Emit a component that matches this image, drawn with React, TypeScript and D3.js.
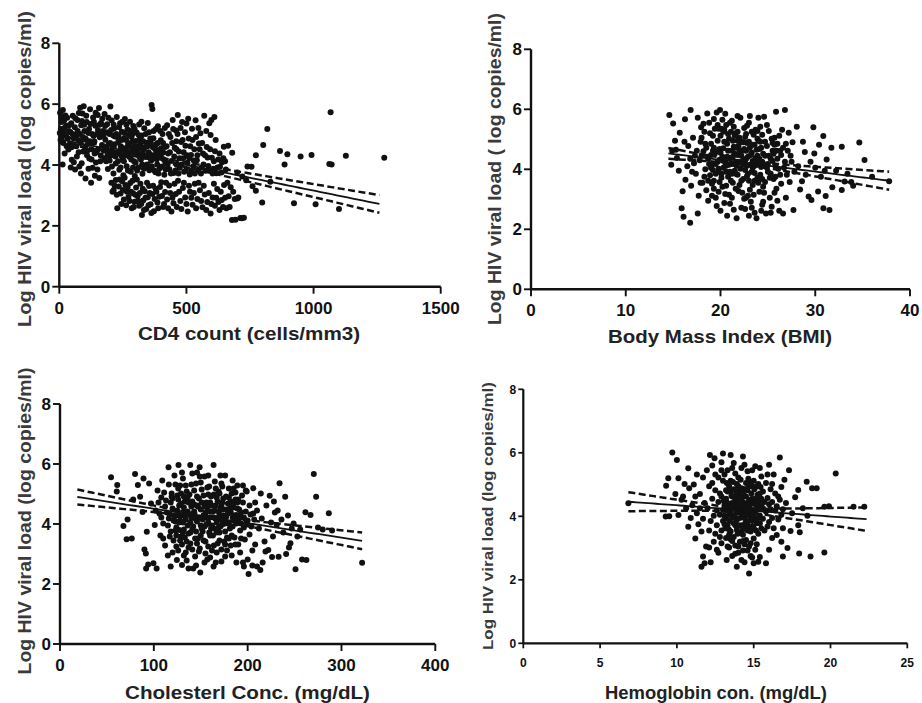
import React from "react";
import * as d3 from "d3";

// ---------- DATA ----------
const yTicks = [0, 2, 4, 6, 8];
const cd4Ticks = [0, 500, 1000, 1500];
const bmiTicks = [0, 10, 20, 30, 40];
const cholTicks = [0, 100, 200, 300, 400];
const hbTicks = [0, 5, 10, 15, 20, 25];

const yTitles = [
  "Log HIV viral load (log copies/ml)",
  "Log HIV viral load ( log copies/ml)",
  "Log HIV viral load (log copies/ml)",
  "Log HIV viral load (log copies/ml)",
];
const xTitles = [
  "CD4 count (cells/mm3)",
  "Body Mass Index (BMI)",
  "Cholesterl Conc. (mg/dL)",
  "Hemoglobin con. (mg/dL)",
];

// regression fits: x range, y at ends, mean x, CI half-width [left, centre, right]
const cd4FitX = [0, 1259];
const cd4FitY = [4.85, 2.72];
const cd4MeanX = 330;
const cd4Band = [0.13, 0.06, 0.29];

const bmiFitX = [14.5, 37.8];
const bmiFitY = [4.53, 3.62];
const bmiMeanX = 22;
const bmiBand = [0.18, 0.06, 0.3];

const cholFitX = [18.5, 322];
const cholFitY = [4.9, 3.44];
const cholMeanX = 150;
const cholBand = [0.25, 0.06, 0.28];

const hbFitX = [6.84, 22.35];
const hbFitY = [4.46, 3.91];
const hbMeanX = 14;
const hbBand = [0.3, 0.06, 0.37];

const cd4Points: [number, number][] = [
  [3,5.72],[8,5.58],[14,5.81],[19,5.46],[24,5.63],[6,5.18],[11,4.93],[17,5.07],[27,5.29],[33,4.88],[38,5.12],[42,4.71],[47,5.37],[52,5.02],[58,4.63],[61,5.24],[66,4.97],[71,5.48],[77,5.71],[82,5.88],[86,5.31],[91,5.69],[96,5.93],[99,5.12],[104,4.86],[108,5.41],[113,4.69],[117,5.18],[121,5.83],[126,4.52],[129,5.02],[133,5.56],[138,4.77],[142,5.29],[147,4.43],[151,5.64],[156,5.87],[159,4.91],[164,5.38],[168,4.66],[13,4.02],[21,4.38],[36,4.51],[49,4.17],[57,4.09],[69,4.28],[79,3.95],[88,4.06],[94,4.44],[103,3.56],[118,4.21],[131,3.91],[144,4.08],[157,3.57],[163,4.31],[29,4.62],[74,4.82],[111,4.48],[135,4.95],[152,5.15],
  [2,5.05],[5,4.82],[9,5.41],[16,4.72],[20,5.22],[26,4.98],[31,5.55],[35,4.62],[39,5.31],[44,5.08],[48,4.58],[53,5.62],[56,4.88],[63,5.54],[67,4.62],[72,5.12],[76,4.42],[81,5.02],[84,4.72],[89,5.45],[93,4.92],[98,5.32],[101,4.58],[106,5.62],[109,4.32],[114,5.05],[119,4.78],[123,5.35],[127,4.18],[132,4.72],[136,5.42],[139,4.38],[143,5.72],[148,5.02],[153,4.52],[158,5.32],[161,4.12],[166,5.02],[169,5.52],[45,3.92],[62,3.85],[85,3.72],[115,3.88],[140,3.65],[125,3.42],[150,3.85],
  [172,5.12],[175,4.47],[178,5.68],[181,4.83],[184,4.12],[188,5.34],[191,3.87],[194,4.69],[197,5.02],[201,5.92],[203,4.31],[206,5.46],[209,4.58],[213,3.72],[216,5.21],[219,4.94],[222,4.05],[226,5.58],[229,4.39],[232,4.76],[236,3.84],[239,5.37],[242,4.62],[246,5.09],[249,4.21],[252,3.66],[255,4.88],[258,5.51],[262,4.47],[265,3.96],[268,5.17],[271,4.71],[275,4.27],[278,5.42],[281,3.78],[284,4.93],[288,4.54],[291,5.28],[294,4.12],[297,3.64],[301,4.79],[304,5.07],[307,4.36],[311,3.92],[314,5.33],[317,4.63],[321,4.18],[324,4.97],[327,3.71],[331,4.51],[334,5.21],[337,4.27],[341,3.98],[344,4.73],[348,5.38],[351,4.42],[354,3.83],[358,4.87],[361,4.14],[363,5.97],[366,5.84],[368,4.58],[371,5.12],[375,4.33],[378,3.76],[381,4.68],[385,4.02],[388,5.27],[392,4.49],[395,3.89],[399,4.81],[402,4.24],[406,5.02],[409,4.41],[413,3.68],[416,4.59],[419,4.07],[186,4.59],[212,4.97],[244,4.31],[273,4.66],[299,4.43],[326,4.38],[356,4.25],[383,4.41],[198,4.15],[233,4.95],[263,4.82],[289,5.03],[318,4.87],[346,4.02],
  [174,4.95],[177,4.22],[180,5.28],[183,4.58],[187,5.08],[190,4.32],[193,5.55],[196,4.45],[200,4.72],[204,5.15],[207,3.95],[211,4.42],[214,5.32],[218,4.68],[221,4.28],[224,5.02],[228,4.92],[231,4.12],[235,5.24],[238,4.48],[241,3.92],[245,4.82],[248,5.42],[251,4.55],[254,4.12],[257,5.05],[261,4.32],[264,5.32],[267,4.58],[270,3.82],[274,4.98],[277,4.42],[280,5.12],[283,4.18],[287,4.78],[290,3.92],[293,4.62],[296,5.18],[300,4.08],[303,4.62],[306,3.82],[310,4.52],[313,4.98],[316,4.25],[320,4.72],[323,5.42],[326,4.02],[330,4.78],[333,3.88],[336,4.58],[340,5.02],[343,4.32],[347,4.62],[350,3.92],[353,5.08],[357,4.35],[360,4.72],[364,3.95],[367,4.28],[370,4.88],[374,3.82],[377,4.52],[380,5.18],[384,4.22],[387,4.72],[390,3.72],[394,4.38],[397,5.12],[401,4.55],[404,3.95],[408,4.72],[411,4.18],[415,5.22],[418,3.85],
  [424,5.31],[428,4.38],[433,3.86],[437,4.92],[441,4.13],[446,5.48],[450,3.74],[454,4.57],[459,5.13],[462,4.01],[466,5.64],[470,4.44],[474,3.91],[479,4.76],[483,5.41],[487,4.22],[491,3.78],[496,4.63],[500,5.36],[504,4.07],[509,4.87],[513,3.69],[518,4.33],[522,5.19],[527,3.96],[531,4.52],[536,5.47],[541,4.16],[545,3.83],[549,4.71],[555,5.04],[560,3.92],[565,4.38],[570,5.62],[575,3.81],[580,4.59],[586,3.97],[590,5.37],[595,4.99],[600,4.24],[606,3.88],[612,4.45],[618,3.73],[625,4.18],[632,3.94],[640,4.09],[647,4.6],[655,3.85],[610,5.58],[460,4.78],
  [422,4.62],[426,4.02],[431,5.02],[435,4.42],[439,3.72],[444,4.72],[448,5.18],[452,4.28],[457,3.82],[461,4.52],[465,5.02],[469,3.72],[473,4.22],[477,5.22],[481,4.02],[485,4.82],[489,4.42],[494,5.08],[498,3.82],[502,4.32],[507,5.52],[511,4.22],[515,4.62],[520,3.82],[524,4.82],[529,4.15],[533,3.72],[538,4.92],[543,4.32],[547,5.22],[552,4.52],[557,3.72],[562,4.72],[567,4.02],[573,4.32],[578,5.12],[583,4.25],[588,3.82],[593,4.52],[598,5.48],[603,3.72],[608,4.12],[615,4.82],[622,3.92],[630,4.38],[638,3.75],[645,4.22],[652,4.12],
  [205,3.42],[214,3.18],[222,3.51],[228,2.58],[234,3.29],[241,3.06],[247,3.47],[254,2.87],[260,3.34],[266,3.12],[272,2.95],[279,3.41],[285,2.58],[290,3.07],[296,2.79],[302,3.26],[308,2.97],[314,2.66],[319,3.38],[325,2.36],[330,2.83],[336,3.14],[342,2.55],[348,2.94],[353,3.31],[359,2.71],[366,3.05],[372,2.48],[379,3.22],[386,2.77],[393,2.96],[401,3.43],[408,2.62],[416,3.11],[424,2.87],[432,3.33],[441,2.47],[449,2.74],[458,3.05],[467,3.48],[476,2.82],[486,3.24],[495,2.93],[505,2.47],[514,3.12],[524,2.69],[533,3.38],[543,2.88],[553,3.17],[563,2.61],[572,3.03],[582,2.78],[595,2.41],[603,2.93],[612,2.66],[621,3.21],[630,2.52],[639,2.85],[648,3.34],[657,2.58],[666,2.97],[674,3.27],[679,2.19],[690,2.88],[704,2.93],[712,2.26],[718,2.25],[693,2.2],
  [209,3.12],[218,3.32],[226,3.02],[237,3.52],[244,2.72],[250,3.18],[257,3.58],[263,2.68],[269,3.28],[276,2.82],[282,3.12],[288,3.48],[293,2.62],[299,3.02],[305,3.52],[311,2.82],[317,3.08],[322,2.72],[328,3.22],[333,2.52],[339,2.92],[345,3.42],[351,2.68],[356,3.08],[362,2.42],[369,3.32],[375,2.88],[382,3.12],[389,2.58],[396,3.28],[404,2.98],[412,2.72],[420,3.42],[428,2.58],[436,3.08],[445,2.92],[453,3.38],[462,2.62],[471,3.12],[480,2.55],[490,3.42],[500,2.72],[510,3.32],[519,2.92],[529,3.08],[538,2.58],[548,3.42],[558,2.82],[568,3.32],[578,2.52],[588,3.08],[598,2.72],[608,3.38],[617,2.92],[626,2.78],[635,3.12],[644,2.62],[652,2.92],[661,3.42],[670,2.62],[684,3.12],
  [664,4.63],[680,4.4],[700,3.75],[720,3.62],[740,3.95],[756,3.94],[773,4.32],[773,3.15],[798,2.77],[802,4.66],[818,5.18],[868,4.46],[886,4.02],[897,4.35],[923,2.74],[949,4.28],[992,4.33],[1008,2.71],[1067,5.73],[1071,4.02],[1062,4.03],[1100,2.55],[1127,4.3],[1278,4.24],[830,3.45],[726,2.27],[700,2.9],[735,3.5],[760,3.3],
];

const bmiPoints: [number, number][] = [
  [14.6,5.81],[15.0,5.53],[14.8,4.15],[14.9,4.62],[15.2,4.95],[15.4,4.38],[15.7,5.22],[15.9,2.7],[16.1,2.42],[16.8,2.22],[16.0,3.27],[16.3,3.65],[16.5,4.1],[16.25,5.67],[16.6,4.78],[16.85,5.98],[16.9,3.45],[17.1,5.05],[17.3,4.45],[17.6,2.53],[17.4,3.85],[17.7,3.12],[17.9,4.92],[17.95,5.4],[17.2,4.2],
  [18.1,3.55],[18.2,4.6],[18.3,5.25],[18.4,4.0],[18.6,5.86],[18.5,3.3],[18.7,4.35],[18.8,5.55],[18.9,3.8],[19.0,4.85],[19.1,4.15],[19.2,5.12],[19.3,3.62],[19.4,4.52],[19.5,3.05],[19.6,5.89],[19.7,4.25],[19.8,3.92],[19.95,5.98],[19.9,4.68],[20.0,2.62],[20.1,5.35],[20.2,3.42],[20.3,4.05],[20.4,4.92],[20.5,3.18],[20.6,5.48],[20.7,4.42],[20.8,3.75],[20.9,5.02],[21.0,2.85],[21.1,4.18],[21.2,5.62],[21.3,3.55],[21.4,4.75],[21.5,3.95],[21.6,5.2],[21.7,2.37],[21.8,4.48],[21.9,3.28],[22.0,5.05],[22.1,4.02],[22.2,2.72],[22.3,4.62],[22.4,3.68],[22.5,5.38],[22.6,4.3],[22.7,3.05],[22.8,4.88],[22.9,3.85],[23.0,5.55],[23.1,4.15],[23.2,2.92],[23.3,4.55],[23.4,3.48],[23.5,5.15],[23.6,2.55],[23.7,4.38],[23.8,2.37],[23.9,3.72],[24.0,4.95],[24.1,3.25],[24.2,5.42],[24.3,4.08],[24.4,2.82],[24.6,5.75],[24.5,4.52],[24.7,3.58],[24.8,2.53],[24.9,4.78],[25.0,3.92],[25.1,5.28],[25.2,3.05],[25.3,4.35],[25.4,2.75],[25.5,4.62],[25.6,3.68],[25.86,5.92],[25.7,5.05],[25.8,4.12],[25.9,3.35],[26.0,4.85],[26.2,2.62],[26.3,3.82],[26.4,4.48],[26.6,2.53],[26.5,5.32],[26.8,5.98],[26.7,4.05],[26.9,3.05],[27.1,4.62],[27.3,3.58],[27.5,4.25],[27.7,2.64],[27.6,4.9],[27.8,3.92],
  [18.5,4.72],[19.0,4.48],[19.2,3.98],[19.6,4.6],[19.9,4.32],[20.3,4.7],[20.5,4.22],[20.8,4.62],[21.0,4.38],[21.3,4.95],[21.5,4.52],[21.7,4.12],[21.9,4.78],[22.2,4.45],[22.4,4.9],[22.6,3.98],[22.9,4.42],[23.1,4.72],[23.4,4.28],[23.6,4.82],[23.9,4.45],[24.1,4.68],[24.4,4.25],[24.7,4.92],[25.1,4.45],[18.8,4.18],[19.4,5.35],[20.0,5.12],[20.6,3.92],[21.1,3.62],[21.8,3.82],[22.0,3.48],[22.7,5.18],[23.3,3.92],[24.0,3.55],[24.8,4.15],[20.2,5.65],[21.4,5.42],[22.8,5.45],[23.7,5.32],[19.3,3.35],[20.9,3.15],[22.3,3.22],[23.5,3.15],[24.6,3.22],[20.4,2.88],[22.6,2.68],[23.0,2.45],
  [17.5,4.62],[17.8,4.3],[18.0,5.05],[18.3,3.75],[18.6,4.42],[18.9,5.2],[19.1,3.52],[19.3,4.72],[19.5,4.18],[19.7,5.48],[19.8,3.25],[20.0,4.55],[20.1,3.72],[20.3,5.25],[20.4,4.32],[20.6,3.45],[20.7,4.85],[20.9,4.15],[21.0,5.55],[21.2,3.85],[21.3,4.42],[21.5,5.12],[21.6,3.35],[21.8,4.95],[21.9,4.25],[22.1,5.72],[22.2,3.62],[22.4,4.15],[22.5,3.02],[22.7,4.62],[22.8,3.78],[23.0,4.92],[23.1,3.32],[23.3,5.25],[23.4,4.05],[23.6,3.62],[23.8,4.65],[23.9,5.02],[24.1,4.35],[24.2,3.82],[24.4,5.15],[24.5,3.42],[24.7,4.45],[24.9,5.48],[25.0,4.18],[25.2,3.72],[25.4,5.02],[25.5,4.28],[25.7,3.22],[25.9,4.62],[26.1,4.02],[26.2,5.12],[26.4,3.52],[26.6,4.72],[26.8,4.25],[27.0,3.82],[27.2,5.22],[27.4,4.45],[26.0,2.95],[25.3,2.55],[24.3,2.62],[23.3,2.72],[21.4,2.65],[20.7,2.45],[19.6,2.78],[18.7,2.95],[17.9,3.55],[19.1,3.12],[20.1,3.85],[21.2,3.05],[22.9,3.12],[24.5,2.92],[25.7,4.82],[26.9,4.85],[18.2,5.52],[19.3,5.68],[20.5,5.85],[21.8,5.78],[23.1,5.78],[24.0,5.72],[18.0,4.45],[19.8,4.02],[21.6,4.72],[22.0,4.22],[22.7,4.35],[23.6,4.12],[24.3,4.72],[25.6,4.52],[16.8,4.35],[17.0,3.92],[16.2,4.92],[15.6,3.95],[15.3,4.65],[17.6,5.72],
  [18.4,4.85],[18.7,3.62],[19.0,4.05],[19.2,4.62],[19.5,3.85],[19.7,4.95],[19.9,3.58],[20.2,4.42],[20.4,5.32],[20.6,4.12],[20.8,5.18],[21.0,3.92],[21.2,4.62],[21.4,4.18],[21.6,3.85],[21.8,5.25],[22.0,4.62],[22.2,4.92],[22.4,4.32],[22.6,5.08],[22.8,4.12],[23.0,3.62],[23.2,4.48],[23.4,4.82],[23.6,3.88],[23.8,4.32],[24.0,4.18],[24.2,4.92],[24.4,3.68],[24.6,4.12],[24.9,4.05],[25.3,3.85],[25.5,4.88],[25.8,3.75],[26.0,4.35],[26.3,4.62],[19.8,5.35],[21.1,5.25],[22.5,4.68],[23.9,5.28],
  [28.05,5.42],[28.4,3.33],[28.7,4.92],[28.9,4.58],[29.3,3.09],[29.6,2.98],[29.8,5.4],[29.9,4.53],[30.3,3.26],[30.86,2.7],[30.85,5.11],[31.1,3.11],[31.2,4.33],[31.5,2.64],[31.7,4.72],[31.8,3.4],[32.8,4.75],[32.8,3.31],[33.1,3.59],[33.8,3.58],[34.65,4.89],[35.2,4.31],[28.2,4.1],[29.0,3.82],[30.0,4.05],[30.6,3.75],[32.2,3.95],[34.0,3.45],[37.8,3.6],[28.6,3.6],[29.5,4.25],[30.4,4.82],[31.0,3.95],[33.4,3.85],[36.0,3.75],
];

const cholPoints: [number, number][] = [
  [54.4,5.56],[61,5.3],[60.5,5.08],[67.6,3.93],[71,3.49],[76.5,3.52],[80,5.67],[85.4,4.91],[91.5,3.02],[91.8,2.52],[99.6,2.69],[103,2.52],[92.5,3.74],[89,5.52],[101,3.97],[83,5.3],[88,4.4],[95,5.35],[97,4.68],[90,3.15],[94,2.65],[78,4.82],[72,4.15],
  [104,5.12],[106,4.35],[107,3.62],[109,5.45],[110,4.02],[112,3.28],[113,4.78],[115.7,5.89],[115,2.95],[116,4.18],[118,2.58],[118,3.75],[119,5.02],[120,4.52],[121,3.45],[122,5.62],[123,4.08],[124.6,2.8],[124,3.88],[125,4.95],[126.3,5.97],[126,3.12],[127,4.62],[128,5.28],[129,3.58],[130,2.63],[130,4.28],[131,5.52],[132,3.82],[133,4.75],[134,3.05],[135,5.08],[136,4.42],[137,2.52],[137,3.68],[138,4.98],[138.8,5.97],[139,3.35],[140,4.22],[141,5.68],[142,3.92],[143,4.65],[144,2.92],[145,5.35],[146,4.08],[147,3.52],[148,4.85],[148.8,5.89],[149.5,2.38],[149,3.18],[150,4.48],[151,5.15],[152,3.75],[153,4.28],[154,5.58],[155,3.42],[156,4.72],[157,2.82],[158,4.05],[159,5.25],[160,3.62],[161,4.92],[162,3.95],[163.7,5.97],[163.7,2.58],[163,4.42],[164,3.28],[165,5.42],[166,4.18],[167,3.05],[168,4.75],[169,5.08],[170,3.72],[171,4.52],[172,2.75],[172,5.35],[173,3.98],[174,4.85],[175,3.42],[176,5.62],[177,4.25],[178,3.12],[179,4.68],[180,5.18],[181,3.85],[182,4.38],[183,2.95],[184,5.45],[185,4.12],[186,3.55],[187,4.82],[188,4.02],[189,5.28],[190,3.32],[191,4.48],[192,3.78],[194,4.95],[195,2.72],[196,4.22],[197,3.48],[198,5.12],[199,4.05],[199,5.08],[201,2.33],[202,3.65],[203,4.32],[205,3.12],[206,5.19],[207,4.15],
  [125,4.45],[128,4.12],[132,4.55],[134,4.32],[136,3.95],[140,4.58],[142,4.35],[145,3.75],[147,4.58],[150,3.95],[152,4.15],[155,4.38],[157,4.55],[160,4.22],[162,4.62],[165,4.45],[167,4.05],[170,4.32],[172,4.62],[175,4.15],[177,4.48],[180,4.02],[182,4.75],[185,4.55],[188,4.3],[190,4.12],[193,4.38],[122,4.25],[127,3.8],[133,3.55],[139,3.72],[146,3.35],[153,3.45],[158,3.25],[164,3.85],[170,3.45],[176,3.75],[183,3.62],[118,4.72],[126,5.18],[134,5.28],[143,5.12],[150,5.38],[158,4.98],[166,5.18],[173,5.25],[180,4.88],[187,5.05],[130,3.32],[141,3.15],[155,3.02],[168,3.35],[178,3.55],[120,3.05],[135,2.78],[145,2.62],[160,2.88],[115,3.95],[112,4.58],
  [105,4.72],[108,4.22],[111,5.05],[114,4.38],[117,3.58],[119,4.92],[121,4.12],[123,5.32],[124,3.62],[126,4.82],[127,4.05],[129,5.02],[131,3.72],[132,4.92],[134,4.15],[135,3.42],[137,4.72],[138,4.32],[140,5.32],[141,3.82],[143,4.42],[144,3.52],[146,4.92],[147,4.22],[149,5.58],[150,3.62],[151,4.72],[153,4.95],[154,3.92],[156,4.22],[157,5.22],[159,3.72],[160,4.72],[161,4.42],[163,3.62],[164,4.98],[166,4.62],[167,3.72],[169,4.42],[170,5.02],[171,3.92],[173,4.72],[174,4.28],[176,3.32],[177,4.92],[179,4.05],[180,3.52],[181,4.52],[183,5.02],[184,4.22],[186,4.72],[187,3.32],[189,4.52],[190,4.82],[192,4.22],[193,3.52],[195,4.72],[196,3.88],[198,4.42],[200,4.12],[202,4.62],[204,3.92],[206,4.35],[208,4.72],[128,3.45],[137,3.22],[148,3.08],[162,3.12],[172,3.15],[182,3.28],[192,3.05],[200,2.82],[205,2.62],[196,2.58],[188,2.72],[176,2.92],[166,2.72],[154,2.72],[142,2.52],[132,2.95],[124,3.25],[116,5.32],[130,5.72],[146,5.72],[158,5.62],[171,5.62],[185,5.18],[195,5.28],[110,3.52],[108,4.88],[102,4.45],
  [117,4.32],[120,4.85],[123,3.78],[126,4.28],[129,4.68],[131,4.05],[133,4.38],[136,4.88],[139,4.05],[141,4.75],[144,4.18],[146,4.62],[149,4.22],[151,3.85],[154,4.58],[156,3.98],[159,4.42],[161,3.85],[164,4.22],[167,4.88],[169,3.88],[171,4.15],[174,4.48],[176,4.02],[179,4.35],[181,4.68],[184,3.92],[186,4.28],[189,4.72],[193,4.02],
  [210,2.58],[213.5,2.47],[210,4.45],[212,3.85],[215,4.18],[218,3.42],[220,4.62],[222,3.13],[223.5,4.94],[225,4.05],[227,3.58],[229,4.38],[231,3.97],[233,2.91],[234,5.36],[236,4.15],[238,3.72],[240,4.91],[241,3.0],[243,4.28],[245.6,3.36],[247,3.85],[249,4.02],[251,2.49],[253,3.58],[256,3.82],[258,2.82],[261.6,4.39],[262.6,2.8],[267,4.3],[270.5,5.67],[273,4.91],[275,3.88],[280,3.82],[286.5,4.36],[290,3.78],[322,2.71],[216,2.72],[219,3.08],[226,2.9],[244,3.22],[208,3.32],[214,5.02],[228,4.75],[232,4.45],
];

const hbPoints: [number, number][] = [
  [6.84,4.41],[9.7,6.01],[10.0,5.77],[9.44,5.2],[10.1,5.2],[9.3,4.96],[9.5,4.0],[9.27,3.99],[10.1,4.04],[10.74,3.67],[11.2,3.3],[10.74,5.51],[11.7,5.22],[10.4,4.62],[10.8,4.88],[11.0,4.35],[11.3,4.1],[11.5,4.7],[11.1,5.0],[10.6,4.25],[11.4,3.75],[11.6,2.41],[11.8,2.52],[11.7,2.73],[11.9,3.05],[11.6,3.52],[11.8,4.42],[11.95,5.45],[10.3,4.52],[9.9,4.7],
  [12.15,5.93],[12.45,5.83],[13.0,5.98],[13.5,5.93],[14.3,5.88],[12.1,4.95],[12.2,3.85],[12.3,4.55],[12.4,3.2],[12.5,5.32],[12.6,4.18],[12.7,2.85],[12.8,4.72],[12.9,3.55],[13.0,5.12],[13.1,4.35],[13.24,2.62],[13.2,3.92],[13.3,5.45],[13.4,4.05],[13.5,3.28],[13.6,4.62],[13.7,5.68],[13.8,3.72],[13.9,2.41],[13.9,4.42],[14.0,5.22],[14.1,3.48],[14.2,4.15],[14.3,2.92],[14.4,4.85],[14.5,3.82],[14.6,5.42],[14.7,2.2],[14.7,4.28],[14.8,3.15],[14.9,4.95],[15.0,3.62],[15.1,5.58],[15.2,4.22],[15.3,2.57],[15.3,3.45],[15.4,4.72],[15.5,5.25],[15.6,3.92],[15.7,4.45],[15.8,2.52],[15.8,5.05],[15.9,3.68],[16.0,4.38],[16.1,4.85],[16.2,3.95],[16.3,5.32],[16.4,4.18],[16.5,3.41],[16.6,4.62],[16.7,5.85],[16.8,4.05],[16.9,2.73],[16.9,3.62],[12.3,5.6],[12.9,5.7],[13.6,2.75],[14.4,2.55],[14.9,2.7],[12.5,3.45],[13.3,3.05],[14.0,2.85],[15.1,2.95],[12.2,2.55],
  [13.2,4.55],[13.4,4.32],[13.5,4.78],[13.6,3.98],[13.7,4.25],[13.8,4.55],[13.9,3.88],[14.0,4.68],[14.1,4.12],[14.2,3.72],[14.3,4.45],[14.4,3.95],[14.5,4.62],[14.6,4.05],[14.7,3.65],[14.8,4.38],[14.9,3.85],[15.0,4.52],[15.1,4.12],[15.2,3.78],[15.3,4.42],[15.4,4.02],[15.5,3.62],[13.3,3.72],[13.5,3.52],[13.7,3.35],[13.9,3.58],[14.1,3.95],[14.3,3.42],[14.5,3.25],[14.6,3.55],[14.8,3.95],[15.0,3.3],[14.2,4.88],[14.6,4.82],[13.9,5.02],[13.4,4.95],[15.2,4.95],[14.0,4.35],[14.4,4.25],[13.1,3.75],[12.8,4.05],[12.7,4.45],[15.6,4.25],[15.9,4.58],[16.2,4.45],[13.0,4.2],[14.9,4.2],[14.1,3.2],[14.7,3.05],[13.8,3.08],
  [12.0,4.25],[12.1,3.55],[12.3,5.05],[12.4,4.02],[12.5,4.82],[12.6,3.72],[12.7,5.22],[12.8,3.35],[12.9,4.62],[13.0,3.85],[13.1,5.32],[13.2,4.2],[13.3,4.78],[13.4,3.58],[13.5,5.12],[13.6,4.42],[13.7,3.78],[13.8,5.35],[13.9,4.25],[14.0,3.72],[14.1,4.82],[14.2,5.52],[14.3,4.02],[14.4,3.62],[14.5,5.05],[14.6,4.42],[14.7,4.95],[14.8,3.52],[14.9,4.55],[15.0,5.12],[15.1,3.92],[15.2,4.58],[15.3,5.02],[15.4,3.78],[15.5,4.32],[15.6,4.78],[15.7,3.55],[15.8,4.15],[15.9,5.32],[16.0,3.82],[16.1,4.22],[16.2,5.02],[16.3,3.62],[16.4,4.72],[16.5,4.32],[16.6,3.9],[16.7,4.52],[16.8,4.92],[16.9,4.22],[13.2,3.32],[13.4,3.02],[13.6,3.22],[13.8,2.82],[14.0,3.05],[14.2,2.62],[14.4,3.12],[14.6,2.92],[14.8,2.75],[15.0,2.52],[15.2,3.12],[15.4,2.72],[12.6,2.95],[12.9,3.15],[12.1,3.02],[16.0,2.95],[16.2,3.32],[13.1,4.02],[13.3,4.42],[13.5,4.12],[13.7,4.62],[13.9,4.12],[14.1,4.52],[14.3,4.82],[14.5,4.08],[14.7,4.52],[14.9,3.68],[15.1,4.38],[15.3,3.95],[15.5,4.55],[13.6,5.52],[14.4,5.62],[14.9,5.45],[15.4,5.52],[12.9,5.45],[16.0,5.62],[11.2,4.62],[11.5,4.25],[11.7,3.92],[11.3,5.32],[10.9,3.95],[10.5,5.02],
  [13.05,4.48],[13.15,3.62],[13.25,5.05],[13.35,4.18],[13.45,3.85],[13.55,4.65],[13.65,5.08],[13.75,4.02],[13.85,4.78],[13.95,3.45],[14.05,4.22],[14.15,5.15],[14.25,3.58],[14.35,4.68],[14.45,3.78],[14.55,4.35],[14.65,5.18],[14.75,3.88],[14.85,4.72],[14.95,4.02],[15.05,4.85],[15.15,3.55],[15.25,4.68],[15.35,4.25],[15.45,4.92],[13.4,3.42],[13.8,3.95],[14.2,4.35],[14.6,3.72],[15.0,4.05],[14.3,3.22],[13.7,4.85],[14.8,5.05],[13.2,4.82],[15.4,4.48],[14.0,4.95],[14.5,4.85],[13.6,4.32],[14.2,4.58],[14.7,4.15],
  [17.4,3.54],[17.9,3.72],[17.9,4.83],[17.96,2.83],[18.45,5.09],[18.7,2.73],[18.8,4.88],[19.1,4.88],[19.6,2.86],[19.6,4.3],[20.34,5.35],[22.2,4.3],[17.1,4.42],[17.3,5.45],[17.5,4.1],[17.7,4.6],[18.0,3.5],[18.2,4.25],[16.8,3.2],[17.2,3.0],[18.5,4.02],[21.5,4.3],[19.9,4.32],[17.0,5.15],
];

// ---------- LAYOUT ----------
type Panel = {
  points: [number, number][];
  xTicks: number[];
  fitX: number[];
  fitY: number[];
  meanX: number;
  band: number[];
  yTitle: string;
  xTitle: string;
  left: number; right: number; top: number; bottom: number;
  tickFont: number;
  yTitleX: number; yTitleY: number; yTitleFont: number; yTitleLen: number;
  xTitleX: number; xTitleY: number; xTitleLen: number;
  tickLabelY: number;
};

const panels: Panel[] = [
  {
    points: cd4Points, xTicks: cd4Ticks, fitX: cd4FitX, fitY: cd4FitY, meanX: cd4MeanX, band: cd4Band,
    yTitle: yTitles[0], xTitle: xTitles[0],
    left: 59.3, right: 440.7, top: 43.3, bottom: 286.7, tickFont: 17,
    yTitleX: 24, yTitleY: 169, yTitleFont: 19, yTitleLen: 316,
    xTitleX: 249, xTitleY: 333, xTitleLen: 222, tickLabelY: 308,
  },
  {
    points: bmiPoints, xTicks: bmiTicks, fitX: bmiFitX, fitY: bmiFitY, meanX: bmiMeanX, band: bmiBand,
    yTitle: yTitles[1], xTitle: xTitles[1],
    left: 531, right: 910, top: 49.3, bottom: 289.3, tickFont: 17,
    yTitleX: 494, yTitleY: 169, yTitleFont: 19, yTitleLen: 312,
    xTitleX: 720, xTitleY: 336, xTitleLen: 224, tickLabelY: 310,
  },
  {
    points: cholPoints, xTicks: cholTicks, fitX: cholFitX, fitY: cholFitY, meanX: cholMeanX, band: cholBand,
    yTitle: yTitles[2], xTitle: xTitles[2],
    left: 60, right: 435.3, top: 404, bottom: 644, tickFont: 17,
    yTitleX: 24, yTitleY: 521, yTitleFont: 19, yTitleLen: 307,
    xTitleX: 247.5, xTitleY: 692, xTitleLen: 245, tickLabelY: 665,
  },
  {
    points: hbPoints, xTicks: hbTicks, fitX: hbFitX, fitY: hbFitY, meanX: hbMeanX, band: hbBand,
    yTitle: yTitles[3], xTitle: xTitles[3],
    left: 523.3, right: 907.3, top: 389.3, bottom: 643.3, tickFont: 12,
    yTitleX: 488, yTitleY: 516, yTitleFont: 15, yTitleLen: 268,
    xTitleX: 716, xTitleY: 692, xTitleLen: 222, tickLabelY: 663,
  },
];

const FONT = "'Liberation Sans', Arial, Helvetica, sans-serif";

function bandHalfWidth(x: number, p: Panel) {
  const [hL, h0, hR] = p.band;
  const xEnd = x < p.meanX ? p.fitX[0] : p.fitX[1];
  const hEnd = x < p.meanX ? hL : hR;
  const t = (x - p.meanX) / (xEnd - p.meanX);
  return Math.sqrt(h0 * h0 + (hEnd * hEnd - h0 * h0) * t * t);
}

function PanelView({ p }: { p: Panel }) {
  const xMax = p.xTicks[p.xTicks.length - 1];
  const x = d3.scaleLinear().domain([0, xMax]).range([p.left, p.right]);
  const y = d3.scaleLinear().domain([0, 8]).range([p.bottom, p.top]);
  const fit = d3.scaleLinear().domain(p.fitX).range(p.fitY);
  const xs = d3.range(0, 61).map((i) => p.fitX[0] + ((p.fitX[1] - p.fitX[0]) * i) / 60);
  const mid = d3.line<number>().x((v) => x(v)).y((v) => y(fit(v)))(xs) || "";
  const up = d3.line<number>().x((v) => x(v)).y((v) => y(fit(v) + bandHalfWidth(v, p)))(xs) || "";
  const lo = d3.line<number>().x((v) => x(v)).y((v) => y(fit(v) - bandHalfWidth(v, p)))(xs) || "";
  const tickLen = p.tickFont > 14 ? 7 : 5;
  const axisW = p.tickFont > 14 ? 2.4 : 2.2;
  return (
    <g>
      {p.points.map((d, i) => (
        <circle key={i} cx={x(d[0])} cy={y(d[1])} r={3.0} fill="#111" />
      ))}
      <path d={mid} fill="none" stroke="#111" strokeWidth={1.8} />
      <path d={up} fill="none" stroke="#111" strokeWidth={2.5} strokeDasharray="7 3.5" />
      <path d={lo} fill="none" stroke="#111" strokeWidth={2.5} strokeDasharray="7 3.5" />
      <line x1={p.left} x2={p.left} y1={p.top} y2={p.bottom} stroke="#111" strokeWidth={axisW} />
      <line x1={p.left} x2={p.right} y1={p.bottom} y2={p.bottom} stroke="#111" strokeWidth={axisW} />
      {yTicks.map((t) => (
        <g key={"y" + t}>
          <line x1={p.left - tickLen} x2={p.left} y1={y(t)} y2={y(t)} stroke="#111" strokeWidth={axisW * 0.8} />
          <text x={p.left - tickLen - 2} y={y(t)} dy="0.36em" textAnchor="end" fontSize={p.tickFont}
            fontWeight="bold" fontFamily={FONT} fill="#111">{t}</text>
        </g>
      ))}
      {p.xTicks.map((t) => (
        <g key={"x" + t}>
          <line x1={x(t)} x2={x(t)} y1={p.bottom} y2={p.bottom + tickLen} stroke="#111" strokeWidth={axisW * 0.8} />
          <text x={x(t)} y={p.tickLabelY} dy="0.36em" textAnchor="middle" fontSize={p.tickFont}
            fontWeight="bold" fontFamily={FONT} fill="#111">{t}</text>
        </g>
      ))}
      <text transform={`translate(${p.yTitleX},${p.yTitleY}) rotate(-90)`} textAnchor="middle" dy="0.36em"
        fontSize={p.yTitleFont} fontWeight="bold" fontFamily={FONT} fill="#3a3a3a"
        textLength={p.yTitleLen} lengthAdjust="spacingAndGlyphs">{p.yTitle}</text>
      <text x={p.xTitleX} y={p.xTitleY} dy="0.36em" textAnchor="middle" fontSize={19}
        fontWeight="bold" fontFamily={FONT} fill="#222"
        textLength={p.xTitleLen} lengthAdjust="spacingAndGlyphs">{p.xTitle}</text>
    </g>
  );
}

export default function App() {
  return (
    <svg width={922} height={703} style={{ position: "absolute", left: 0, top: 0, background: "#fff" }}>
      <rect width={922} height={703} fill="#fff" />
      {panels.map((p, i) => (
        <PanelView key={i} p={p} />
      ))}
    </svg>
  );
}
